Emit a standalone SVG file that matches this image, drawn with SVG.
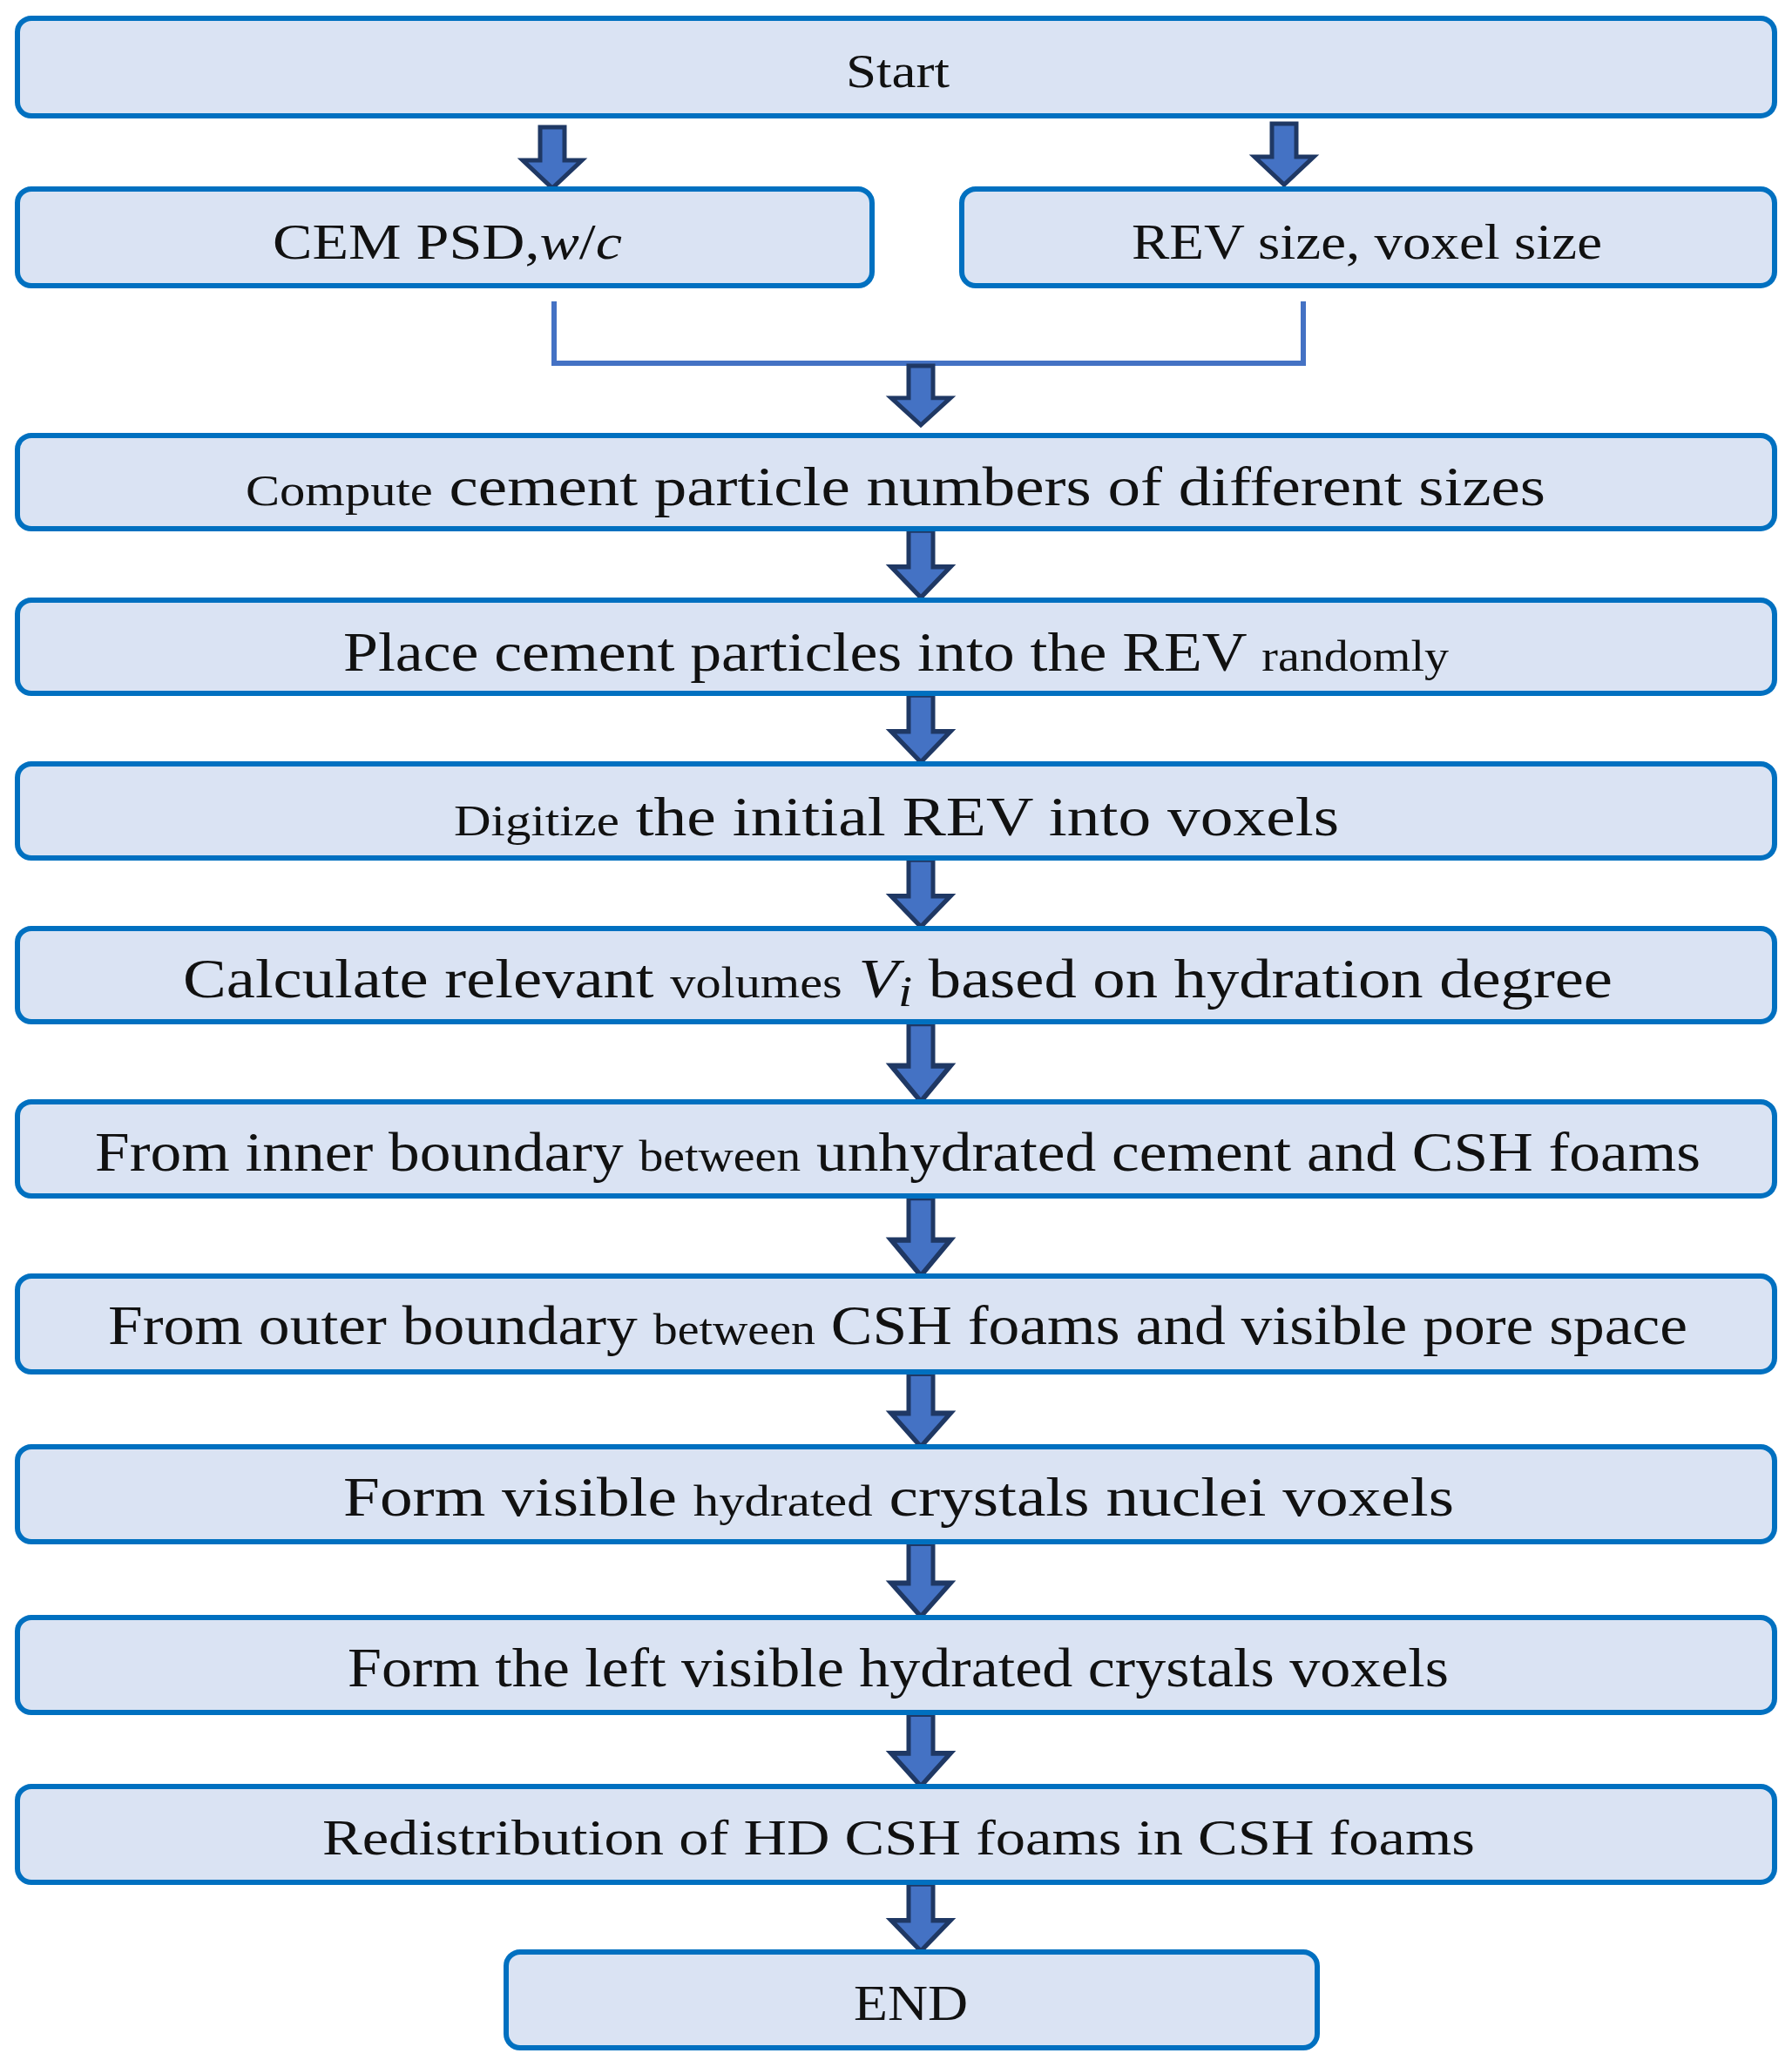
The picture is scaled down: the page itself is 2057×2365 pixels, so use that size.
<svg xmlns="http://www.w3.org/2000/svg" width="2057" height="2365" viewBox="0 0 2057 2365">
<style>
.box{fill:#DAE3F3;stroke:#0070C0;stroke-width:6}
.t{font-family:"Liberation Serif","Times New Roman",serif;font-size:64px;fill:#111;text-anchor:start}
.s{font-size:50px}
.arr{fill:#4472C4;stroke:#1F3864;stroke-width:5;stroke-linejoin:miter}
.ln{fill:none;stroke:#4472C4;stroke-width:6}
</style>
<defs>
<path id="a" d="M-14,0 H14 V38 H34 L0,70 L-34,38 H-14 Z"/>
</defs>
<rect width="2057" height="2365" fill="#fff"/>
<g id="connectors">
<use href="#a" class="arr" transform="translate(634,146)"/>
<use href="#a" class="arr" transform="translate(1474,142)"/>
<path class="ln" d="M636,346 V417 H1496 V346"/>
<use href="#a" class="arr" transform="translate(1057,420) scale(1,0.97)"/>
<use href="#a" class="arr" transform="translate(1057,609) scale(1,1.1)"/>
<use href="#a" class="arr" transform="translate(1057,798) scale(1,1.1)"/>
<use href="#a" class="arr" transform="translate(1057,987) scale(1,1.1)"/>
<use href="#a" class="arr" transform="translate(1057,1175) scale(1,1.28)"/>
<use href="#a" class="arr" transform="translate(1057,1375) scale(1,1.28)"/>
<use href="#a" class="arr" transform="translate(1057,1577) scale(1,1.2)"/>
<use href="#a" class="arr" transform="translate(1057,1772) scale(1,1.2)"/>
<use href="#a" class="arr" transform="translate(1057,1968) scale(1,1.18)"/>
<use href="#a" class="arr" transform="translate(1057,2163) scale(1,1.1)"/>
</g>
<g id="start"><rect class="box" x="20" y="21" width="2017" height="112" rx="16"/><text class="t" x="971" y="100" style="font-size:54px" textLength="119" lengthAdjust="spacingAndGlyphs">Start</text></g>
<g id="cem"><rect class="box" x="20" y="217" width="981" height="111" rx="16"/><text class="t" x="313" y="297" style="font-size:58px" textLength="401" lengthAdjust="spacingAndGlyphs">CEM PSD,<tspan font-style="italic">w</tspan>/<tspan font-style="italic">c</tspan></text></g>
<g id="rev"><rect class="box" x="1104" y="217" width="933" height="111" rx="16"/><text class="t" x="1299" y="297" style="font-size:58px" textLength="540" lengthAdjust="spacingAndGlyphs">REV  size, voxel size</text></g>
<g id="compute"><rect class="box" x="20" y="500" width="2017" height="107" rx="16"/><text class="t" x="282" y="580" textLength="1492" lengthAdjust="spacingAndGlyphs"><tspan class="s">Compute</tspan> cement particle numbers of different sizes</text></g>
<g id="place"><rect class="box" x="20" y="689" width="2017" height="107" rx="16"/><text class="t" x="394" y="770" textLength="1269" lengthAdjust="spacingAndGlyphs">Place cement particles into the REV <tspan class="s">randomly</tspan></text></g>
<g id="digitize"><rect class="box" x="20" y="877" width="2017" height="108" rx="16"/><text class="t" x="521" y="959" textLength="1016" lengthAdjust="spacingAndGlyphs"><tspan class="s">Digitize</tspan> the initial REV into voxels</text></g>
<g id="calculate"><rect class="box" x="20" y="1066" width="2017" height="107" rx="16"/><text class="t" x="210" y="1145" textLength="1641" lengthAdjust="spacingAndGlyphs">Calculate relevant <tspan class="s">volumes</tspan> <tspan font-style="italic">V</tspan><tspan font-style="italic" class="s" dy="10">i</tspan><tspan dy="-10"> based on hydration degree</tspan></text></g>
<g id="inner"><rect class="box" x="20" y="1265" width="2017" height="108" rx="16"/><text class="t" x="109" y="1344" textLength="1843" lengthAdjust="spacingAndGlyphs">From inner boundary <tspan class="s">between</tspan> unhydrated cement and CSH foams</text></g>
<g id="outer"><rect class="box" x="20" y="1465" width="2017" height="110" rx="16"/><text class="t" x="124" y="1543" textLength="1813" lengthAdjust="spacingAndGlyphs">From outer boundary <tspan class="s">between</tspan> CSH foams and visible pore space</text></g>
<g id="nuclei"><rect class="box" x="20" y="1661" width="2017" height="109" rx="16"/><text class="t" x="394" y="1740" textLength="1275" lengthAdjust="spacingAndGlyphs">Form visible <tspan class="s">hydrated</tspan> crystals nuclei voxels</text></g>
<g id="left"><rect class="box" x="20" y="1857" width="2017" height="109" rx="16"/><text class="t" x="399" y="1936" textLength="1264" lengthAdjust="spacingAndGlyphs">Form the left visible hydrated crystals voxels</text></g>
<g id="redis"><rect class="box" x="20" y="2051" width="2017" height="110" rx="16"/><text class="t" x="370" y="2129" style="font-size:58px" textLength="1323" lengthAdjust="spacingAndGlyphs">Redistribution of HD CSH foams in CSH foams</text></g>
<g id="end"><rect class="box" x="581" y="2241" width="931" height="110" rx="16"/><text class="t" x="980" y="2319" style="font-size:56px" textLength="131" lengthAdjust="spacingAndGlyphs">END</text></g>
</svg>
